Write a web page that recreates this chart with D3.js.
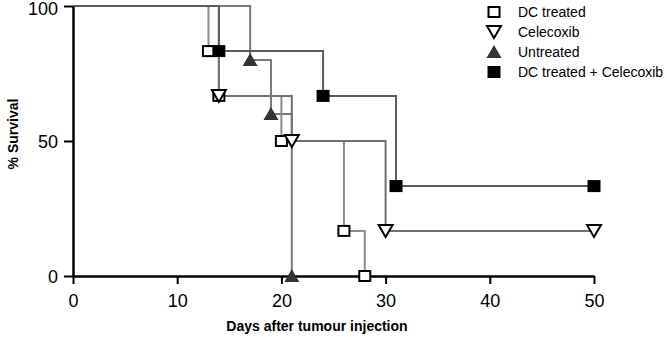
<!DOCTYPE html>
<html><head><meta charset="utf-8">
<script src="https://cdn.jsdelivr.net/npm/d3@7"></script>
<style>body{margin:0;background:#fff}svg{display:block}</style>
</head><body>
<svg id="c" width="667" height="337"></svg>
<script>
const seriesNames = ["DC treated", "Celecoxib", "Untreated", "DC treated + Celecoxib"];
const dcDays = [0, 13, 14, 20, 26, 28];
const dcSurv = [100, 83.3, 66.7, 50, 16.7, 0];
const celDays = [0, 14, 21, 30, 50];
const celSurv = [100, 66.7, 50, 16.7, 16.7];
const untDays = [0, 17, 19, 21];
const untSurv = [100, 80, 60, 0];
const comboDays = [0, 14, 24, 31, 50];
const comboSurv = [100, 83.3, 66.7, 33.3, 33.3];
const xTicks = [0, 10, 20, 30, 40, 50];
const yTicks = [0, 50, 100];

const svg = d3.select("#c");
const x = d3.scaleLinear().domain([0, 50]).range([73, 594]);
const y = d3.scaleLinear().domain([0, 100]).range([276, 6]);

const series = [
  {name: seriesNames[0], days: dcDays, surv: dcSurv, color: "#8c8c8c", marker: "sqOpen"},
  {name: seriesNames[1], days: celDays, surv: celSurv, color: "#707070", marker: "triDownOpen"},
  {name: seriesNames[2], days: untDays, surv: untSurv, color: "#7a7a7a", marker: "triUp"},
  {name: seriesNames[3], days: comboDays, surv: comboSurv, color: "#5c5c5c", marker: "sqFilled"}
];

const line = d3.line().x(d => x(d[0])).y(d => y(d[1])).curve(d3.curveStepAfter);
const drawOrder = [2, 0, 1, 3];
drawOrder.forEach(i => {
  const s = series[i];
  const pts = s.days.map((d, j) => [d, s.surv[j]]);
  svg.append("path").attr("d", line(pts)).attr("fill", "none")
    .attr("stroke", s.color).attr("stroke-width", 2);
});

function drawMarker(g, type, cx, cy) {
  if (type === "sqOpen") {
    g.append("rect").attr("x", cx - 5.5).attr("y", cy - 5).attr("width", 11).attr("height", 10)
      .attr("fill", "#fff").attr("stroke", "#000").attr("stroke-width", 2);
  } else if (type === "sqFilled") {
    g.append("rect").attr("x", cx - 6.5).attr("y", cy - 6).attr("width", 13).attr("height", 12)
      .attr("fill", "#000");
  } else if (type === "triDownOpen") {
    g.append("path").attr("d", `M${cx-7},${cy-6}L${cx+7},${cy-6}L${cx},${cy+6}Z`)
      .attr("fill", "#fff").attr("stroke", "#000").attr("stroke-width", 2).attr("stroke-linejoin", "miter");
  } else if (type === "triUp") {
    g.append("path").attr("d", `M${cx-7.5},${cy+6}L${cx+7.5},${cy+6}L${cx},${cy-7}Z`)
      .attr("fill", "#333");
  }
}

const xAxis = svg.append("g").attr("transform", "translate(0,276)")
  .call(d3.axisBottom(x).tickValues(xTicks).tickSize(8).tickSizeOuter(0));
const yAxis = svg.append("g").attr("transform", "translate(73,0)")
  .call(d3.axisLeft(y).tickValues(yTicks).tickSize(9).tickSizeOuter(0));
[xAxis, yAxis].forEach(a => {
  a.select(".domain").attr("stroke", "#000").attr("stroke-width", 2.5);
  a.selectAll(".tick line").attr("stroke", "#000").attr("stroke-width", 2);
  a.selectAll("text").attr("font-family", "Liberation Sans, Arial, sans-serif")
    .attr("font-size", 18).attr("fill", "#000");
});
xAxis.selectAll("text").attr("dy", "1.1em");
yAxis.selectAll("text").attr("x", -15).attr("dy", d => d === 100 ? "0.45em" : "0.35em");

const mg = svg.append("g");
drawOrder.forEach(i => {
  const s = series[i];
  s.days.forEach((d, j) => { if (j > 0) drawMarker(mg, s.marker, x(d), y(s.surv[j])); });
});

svg.append("text").attr("x", 317).attr("y", 331).attr("text-anchor", "middle")
  .attr("font-family", "Liberation Sans, Arial, sans-serif").attr("font-weight", "bold")
  .attr("font-size", 14).text("Days after tumour injection");
svg.append("text").attr("transform", "translate(18,134) rotate(-90)").attr("text-anchor", "middle")
  .attr("font-family", "Liberation Sans, Arial, sans-serif").attr("font-weight", "bold")
  .attr("font-size", 14).text("% Survival");

const lg = svg.append("g");
series.forEach((s, i) => {
  const ly = 12 + i * 20;
  drawMarker(lg, s.marker, 494, ly);
  lg.append("text").attr("x", 518).attr("y", ly).attr("dy", "0.35em")
    .attr("font-family", "Liberation Sans, Arial, sans-serif").attr("font-size", 14)
    .attr("fill", "#000").text(s.name);
});
</script>
</body></html>
